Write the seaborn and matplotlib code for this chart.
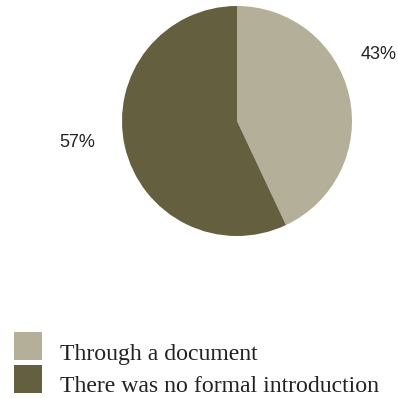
import matplotlib
matplotlib.use("Agg")
import matplotlib.pyplot as plt
from matplotlib.patches import Rectangle
import seaborn as sns
import numpy as np

# Survey answers: how respondents were introduced
categories = ["Through a document", "There was no formal introduction"]
shares = [43, 57]
colors = ["#b3af98", "#645f3f"]

sns.set_theme(style="white")
plt.rcParams["font.family"] = ["Liberation Sans", "DejaVu Sans"]

W = H = 398
fig = plt.figure(figsize=(W / 100, H / 100), dpi=100)
fig.patch.set_facecolor("white")

# Pie axes (center ~ (237,121) px, radius ~115 px)
cx, cy, r = 237, 121, 115
ax = fig.add_axes([(cx - r) / W, (H - cy - r) / H, 2 * r / W, 2 * r / H])
wedges, _ = ax.pie(shares, colors=colors, startangle=90, counterclock=False,
                   radius=1.0, wedgeprops=dict(linewidth=0))
ax.set_xlim(-1, 1)
ax.set_ylim(-1, 1)
ax.set_aspect("equal")
ax.axis("off")

# Percentage labels outside the pie
label_pos = [(25.0, 1.36), (187.8, 1.40)]
for val, (ang, dist) in zip(shares, label_pos):
    a = np.deg2rad(ang)
    ax.text(dist * np.cos(a), dist * np.sin(a), f"{val}%", ha="center",
            va="center", fontsize=13, color="#222222", clip_on=False)

# Legend rows: colored squares with serif captions
sq = 28
rows_top = [332, 365]
baselines = [360, 392]
for cat, col, top, base in zip(categories, colors, rows_top, baselines):
    fig.patches.append(Rectangle((14 / W, (H - top - sq) / H), sq / W, sq / H,
                                 transform=fig.transFigure, facecolor=col,
                                 edgecolor="none"))
    fig.text(60 / W, (H - base) / H, cat, fontsize=17.1,
             family=["Liberation Serif", "DejaVu Serif"], color="#222222",
             ha="left", va="baseline")

fig.savefig("out.png", dpi=100, facecolor="white")
